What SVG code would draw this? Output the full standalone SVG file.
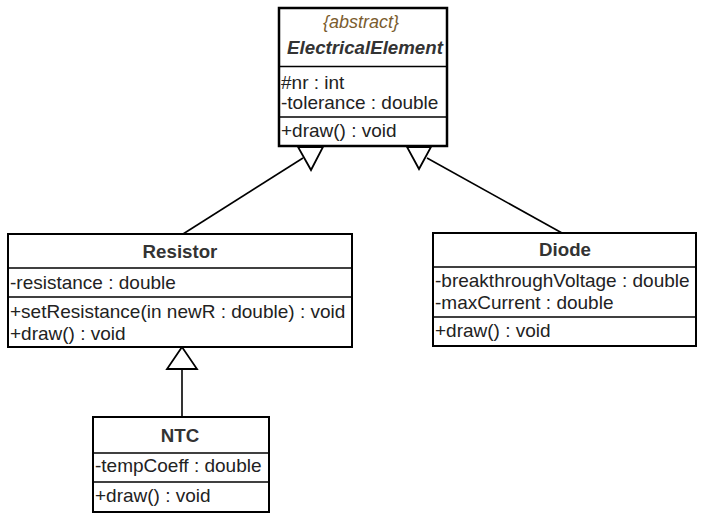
<svg xmlns="http://www.w3.org/2000/svg" width="705" height="516" viewBox="0 0 705 516">
<style>
.box{fill:#fff;stroke:#000;stroke-width:2}
.sep{stroke:#000;stroke-width:1.5}
.t{font-family:"Liberation Sans",Arial,sans-serif;font-size:19px;fill:#222}
.n{font-family:"Liberation Sans",Arial,sans-serif;font-size:18.7px;font-weight:bold;fill:#333;text-anchor:middle}
.st{font-family:"Liberation Sans",Arial,sans-serif;font-size:18px;font-style:italic;fill:#7a5c2e;text-anchor:middle}
.edge{stroke:#000;stroke-width:1.6;fill:none}
.head{stroke:#000;stroke-width:1.8;fill:#fff;stroke-linejoin:miter}
</style>
<rect width="705" height="516" fill="#fff"/>
<g id="connectors">
<line class="edge" x1="183" y1="234" x2="303" y2="158"/>
<polygon class="head" points="298,147 323,147 311,170"/>
<line class="edge" x1="562" y1="233" x2="427" y2="158"/>
<polygon class="head" points="407,147 431,147 419,169"/>
<line class="edge" x1="182" y1="369" x2="182" y2="417"/>
<polygon class="head" points="182,347 167,369 197,369"/>
</g>
<g id="ElectricalElement">
<rect class="box" x="279" y="8" width="168" height="138" style="stroke-width:2.5"/>
<line class="sep" x1="279" y1="66.5" x2="447" y2="66.5"/>
<line class="sep" x1="279" y1="117" x2="447" y2="117"/>
<text class="st" x="361" y="28">{abstract}</text>
<text class="n" x="365" y="54" style="font-style:italic">ElectricalElement</text>
<text class="t" x="281" y="89">#nr : int</text>
<text class="t" x="281" y="109">-tolerance : double</text>
<text class="t" x="281" y="137">+draw() : void</text>
</g>
<g id="Resistor">
<rect class="box" x="8" y="234" width="344" height="113"/>
<line class="sep" x1="8" y1="268" x2="352" y2="268"/>
<line class="sep" x1="8" y1="297" x2="352" y2="297"/>
<text class="n" x="180" y="258">Resistor</text>
<text class="t" x="10" y="289">-resistance : double</text>
<text class="t" x="10" y="318">+setResistance(in newR : double) : void</text>
<text class="t" x="10" y="340">+draw() : void</text>
</g>
<g id="Diode">
<rect class="box" x="433" y="233" width="263" height="113"/>
<line class="sep" x1="433" y1="267" x2="696" y2="267"/>
<line class="sep" x1="433" y1="317" x2="696" y2="317"/>
<text class="n" x="565" y="256">Diode</text>
<text class="t" x="435" y="287">-breakthroughVoltage : double</text>
<text class="t" x="435" y="309">-maxCurrent : double</text>
<text class="t" x="435" y="337">+draw() : void</text>
</g>
<g id="NTC">
<rect class="box" x="93" y="417" width="176" height="95"/>
<line class="sep" x1="93" y1="453" x2="269" y2="453"/>
<line class="sep" x1="93" y1="482" x2="269" y2="482"/>
<text class="n" x="180" y="442">NTC</text>
<text class="t" x="95" y="472">-tempCoeff : double</text>
<text class="t" x="95" y="502">+draw() : void</text>
</g>
</svg>
